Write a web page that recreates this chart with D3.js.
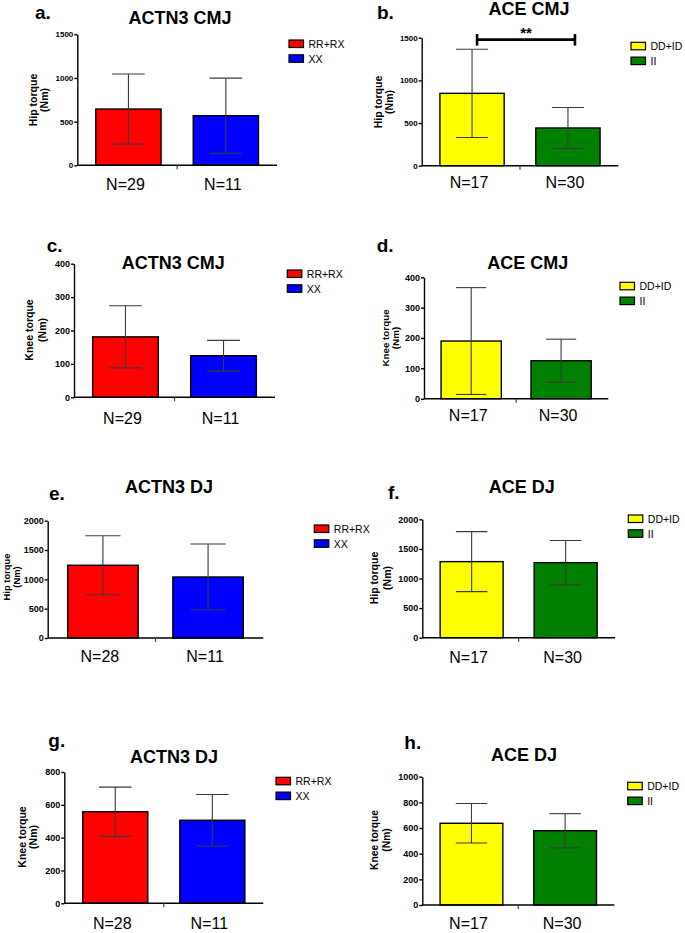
<!doctype html>
<html lang="en">
<head>
  <meta charset="utf-8">
  <title>ACTN3 / ACE torque bar charts</title>
  <script src="https://d3js.org/d3.v7.min.js"></script>
  <style>
    body { margin: 0; background: #fff; }
    svg { display: block; font-family: Arial, 'Liberation Sans', sans-serif; }
    .tick text { font-weight: bold; fill: #000; }
    .tick line, .domain { stroke: #000; stroke-width: 1.4; }
  </style>
</head>
<body>
<div id="chart"></div>
<script>
  // --- data ---
  var letters = ['a.', 'b.', 'c.', 'd.', 'e.', 'f.', 'g.', 'h.'];
  var titles = ['ACTN3 CMJ', 'ACE CMJ', 'ACTN3 CMJ', 'ACE CMJ', 'ACTN3 DJ', 'ACE DJ', 'ACTN3 DJ', 'ACE DJ'];
  var yLabels = ['Hip torque', 'Hip torque', 'Knee torque', 'Knee torque', 'Hip torque', 'Hip torque', 'Knee torque', 'Knee torque'];
  var groupsACTN3 = ['RR+RX', 'XX'];
  var groupsACE = ['DD+ID', 'II'];
  var colorsACTN3 = ['#ff0000', '#0000ff'];
  var colorsACE = ['#ffff00', '#008000'];
  var means = [[644, 568], [848, 442], [181, 124.5], [190, 125], [1240, 1040], [1285, 1268], [558, 506], [637, 579]];
  var sds = [[401, 430], [517, 240], [93, 46], [176, 71], [503, 562], [507, 375], [150, 157], [154, 133]];
  var nLabels = [['N=29', 'N=11'], ['N=17', 'N=30'], ['N=29', 'N=11'], ['N=17', 'N=30'],
                 ['N=28', 'N=11'], ['N=17', 'N=30'], ['N=28', 'N=11'], ['N=17', 'N=30']];
  var yMax = [1500, 1500, 400, 400, 2000, 2000, 800, 1000];
  var yStep = [500, 500, 100, 100, 500, 500, 200, 200];
  // significance bracket (panel b only)
  var sigPanel = 1, sigValue = 1478, sigText = '**';

  // --- layout of each panel (pixels) ---
  var layout = [
    {x0: 77.3, x1: 277, yTop: 34.3, y0: 165.3, letter: [35, 19], title: [180, 24], ylab: [33, 44, 100], lab: 10.5, tick: 8, leg: [289, 40], nDy: 25},
    {x0: 421.7, x1: 618.3, yTop: 37.7, y0: 165.7, letter: [377, 18.5], title: [529, 15], ylab: [378, 389, 102], lab: 10.5, tick: 8, leg: [631, 42.3], nDy: 22},
    {x0: 74, x1: 275, yTop: 263.7, y0: 397.3, letter: [46.7, 251.7], title: [173.3, 269], ylab: [29.3, 42, 330], lab: 10.5, tick: 9, leg: [287.3, 270], nDy: 27},
    {x0: 424, x1: 608.3, yTop: 277.3, y0: 398.7, letter: [376.7, 251.7], title: [527.7, 269], ylab: [385.7, 395.7, 338], lab: 9.8, tick: 9, leg: [620, 282.3], nDy: 22},
    {x0: 47.7, x1: 263.3, yTop: 520.7, y0: 638, letter: [49, 500], title: [169, 492.7], ylab: [6.5, 16.5, 577], lab: 9.4, tick: 9, leg: [314.3, 525], nDy: 24},
    {x0: 422.3, x1: 615, yTop: 519.3, y0: 637.7, letter: [388, 499], title: [521.7, 493.3], ylab: [374.3, 386.7, 578], lab: 10.5, tick: 9, leg: [628.3, 515], nDy: 25},
    {x0: 64.3, x1: 263.3, yTop: 772, y0: 903.3, letter: [48.3, 746.7], title: [174, 763.3], ylab: [21.7, 33.3, 837], lab: 10.5, tick: 9, leg: [276, 777.3], nDy: 26},
    {x0: 422.3, x1: 614.3, yTop: 776.7, y0: 905, letter: [404.3, 749.3], title: [524, 760.7], ylab: [374.3, 386.7, 840], lab: 10.3, tick: 9, leg: [627.7, 782.3], nDy: 24}
  ];

  var width = 685, height = 933;
  var svg = d3.select('#chart').append('svg')
      .attr('width', width)
      .attr('height', height);

  layout.forEach(function(L, i) {
    var isACE = i % 2 === 1;
    var groups = isACE ? groupsACE : groupsACTN3;
    var colors = isACE ? colorsACE : colorsACTN3;

    var x = d3.scaleBand().domain(groups).range([L.x0, L.x1])
        .paddingInner(0.33).paddingOuter(0.19);
    var y = d3.scaleLinear().domain([0, yMax[i]]).range([L.y0, L.yTop]);

    var g = svg.append('g');

    // panel letter and title
    g.append('text').attr('x', L.letter[0]).attr('y', L.letter[1])
        .text(letters[i]).style('font-size', '19px').style('font-weight', 'bold');
    g.append('text').attr('x', L.title[0]).attr('y', L.title[1])
        .attr('text-anchor', 'middle')
        .text(titles[i]).style('font-size', '18px').style('font-weight', 'bold');

    // y axis label, two lines
    [yLabels[i], '(Nm)'].forEach(function(t, k) {
      g.append('text')
          .attr('transform', 'translate(' + L.ylab[k] + ',' + L.ylab[2] + ') rotate(-90)')
          .attr('text-anchor', 'middle')
          .attr('dominant-baseline', 'central')
          .text(t)
          .style('font-size', L.lab + 'px').style('font-weight', 'bold');
    });

    // bars
    var rows = groups.map(function(gr, j) {
      return {group: gr, mean: means[i][j], sd: sds[i][j], color: colors[j], n: nLabels[i][j]};
    });

    g.selectAll('rect.bar').data(rows).enter().append('rect')
        .attr('class', 'bar')
        .attr('x', function(d) { return x(d.group); })
        .attr('y', function(d) { return y(d.mean); })
        .attr('width', x.bandwidth())
        .attr('height', function(d) { return y(0) - y(d.mean); })
        .attr('fill', function(d) { return d.color; })
        .attr('stroke', '#000')
        .attr('stroke-width', 1.4);

    // error bars
    var cap = x.bandwidth() / 4;
    var eb = g.selectAll('g.err').data(rows).enter().append('g')
        .attr('class', 'err')
        .attr('stroke', '#3a3a3a')
        .attr('stroke-width', 1.1);
    eb.append('line')
        .attr('x1', function(d) { return x(d.group) + x.bandwidth() / 2; })
        .attr('x2', function(d) { return x(d.group) + x.bandwidth() / 2; })
        .attr('y1', function(d) { return y(d.mean - d.sd); })
        .attr('y2', function(d) { return y(d.mean + d.sd); });
    [1, -1].forEach(function(s) {
      eb.append('line')
          .attr('x1', function(d) { return x(d.group) + x.bandwidth() / 2 - cap; })
          .attr('x2', function(d) { return x(d.group) + x.bandwidth() / 2 + cap; })
          .attr('y1', function(d) { return y(d.mean + s * d.sd); })
          .attr('y2', function(d) { return y(d.mean + s * d.sd); });
    });

    // axes
    g.append('g')
        .attr('transform', 'translate(' + L.x0 + ',0)')
        .call(d3.axisLeft(y).tickValues(d3.range(0, yMax[i] + 1, yStep[i]))
          .tickFormat(d3.format('d'))
          .tickSize(3).tickSizeOuter(0).tickPadding(1))
        .call(function(a) { a.selectAll('text').style('font-size', L.tick + 'px'); });

    var mid = (L.x0 + L.x1) / 2;
    g.append('line').attr('x1', L.x0).attr('x2', L.x1).attr('y1', y(0)).attr('y2', y(0))
        .attr('stroke', '#000').attr('stroke-width', 1.4);
    g.append('line').attr('x1', mid).attr('x2', mid).attr('y1', y(0)).attr('y2', y(0) + 4)
        .attr('stroke', '#444').attr('stroke-width', 1.2);

    // N labels
    g.selectAll('text.n').data(rows).enter().append('text')
        .attr('class', 'n')
        .attr('x', function(d) { return x(d.group) + x.bandwidth() / 2 - 3; })
        .attr('y', y(0) + L.nDy)
        .attr('text-anchor', 'middle')
        .text(function(d) { return d.n; })
        .style('font-size', '16px');

    // legend
    var leg = g.selectAll('g.leg').data(rows).enter().append('g')
        .attr('class', 'leg')
        .attr('transform', function(d, j) { return 'translate(' + L.leg[0] + ',' + (L.leg[1] + j * 14.8) + ')'; });
    leg.append('rect').attr('width', 14.5).attr('height', 7.5)
        .attr('fill', function(d) { return d.color; })
        .attr('stroke', '#000').attr('stroke-width', 1.2);
    leg.append('text').attr('x', 19.5).attr('y', 3.9)
        .attr('dominant-baseline', 'central')
        .text(function(d) { return d.group; })
        .style('font-size', '10.5px');

    // significance bracket
    if (i === sigPanel) {
      var xa = x(groups[0]) + x.bandwidth() / 2 + 5, xb = x(groups[1]) + x.bandwidth() / 2 + 7;
      var ys = y(sigValue);
      var br = g.append('g').attr('stroke', '#000').attr('stroke-width', 2.6);
      br.append('line').attr('x1', xa).attr('x2', xb).attr('y1', ys).attr('y2', ys);
      br.append('line').attr('x1', xa).attr('x2', xa).attr('y1', ys - 5.5).attr('y2', ys + 6);
      br.append('line').attr('x1', xb).attr('x2', xb).attr('y1', ys - 5.5).attr('y2', ys + 6);
      g.append('text').attr('x', (xa + xb) / 2).attr('y', ys - 2)
          .attr('text-anchor', 'middle')
          .text(sigText).style('font-size', '15px').style('font-weight', 'bold');
    }
  });
</script>
</body>
</html>
